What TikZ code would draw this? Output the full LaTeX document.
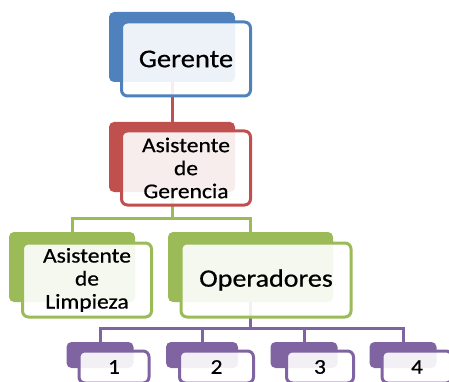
\documentclass[tikz,border=0pt]{standalone}
\usepackage{fontspec}
\setmainfont{Carlito}[FakeStretch=1.12,FakeBold=0.6]
\usetikzlibrary{positioning}
\definecolor{orgblue}{HTML}{4F81BD}
\definecolor{orgred}{HTML}{C0504D}
\definecolor{orggreen}{HTML}{9BBB59}
\definecolor{orgpurple}{HTML}{8064A2}

\begin{document}
\begin{tikzpicture}[x=1pt,y=-1pt,
  backbox/.style={fill=#1, rounded corners=5pt},
  frontbox/.style={draw=#1, line width=3pt, fill=white, fill opacity=0.9,
    text opacity=1, rounded corners=6pt, align=center},
  link/.style={draw=#1, line width=3pt}]
\tikzstyle{every node}+=[inner sep=0pt]
\useasboundingbox (0,0) rectangle (449,382);
\clip (0,0) rectangle (449,382);
% back shapes
\node [backbox=orgblue, minimum width=126pt, minimum height=70pt] (gerB) at (172,47) {};
\node [backbox=orgred, minimum width=126pt, minimum height=70pt] (asgB) at (172,157) {};
\node [backbox=orggreen, minimum width=126pt, minimum height=70pt] (limB) at (72,267) {};
\node [backbox=orggreen, minimum width=165pt, minimum height=70pt] (opB) at (250.5,267) {};
\node [backbox=orgpurple, minimum width=67pt, minimum height=26pt] (op1B) at (100,355) {};
\node [backbox=orgpurple, minimum width=72pt, minimum height=26pt] (op2B) at (202,355) {};
\node [backbox=orgpurple, minimum width=67pt, minimum height=26pt] (op3B) at (304,355) {};
\node [backbox=orgpurple, minimum width=67pt, minimum height=26pt] (op4B) at (403,355) {};
% connectors
\coordinate (gbus) at (172,218);
\coordinate (pbus) at (250.5,328);
\draw [link=orgred] (gerB.south) -- (asgB.north);
\draw [link=orggreen] (asgB.south) -- (gbus) -| (limB.north);
\draw [link=orggreen] (gbus) -| (opB.north);
\draw [link=orgpurple] (opB.south) -- (pbus) -| (op1B.north);
\draw [link=orgpurple] (pbus) -| (op2B.north);
\draw [link=orgpurple] (pbus) -| (op3B.north);
\draw [link=orgpurple] (pbus) -| (op4B.north);
% front shapes
\node [frontbox=orgblue, minimum width=129pt, minimum height=74pt,
  font=\fontsize{25.5}{28}\selectfont] (ger) at (186,59) {Gerente};
\node [frontbox=orgred, minimum width=129pt, minimum height=74pt,
  font=\fontsize{21}{23}\selectfont] (asg) at (186,168) {Asistente\\de\\Gerencia};
\node [frontbox=orggreen, minimum width=129pt, minimum height=74pt,
  font=\fontsize{21}{23}\selectfont] (lim) at (87,280) {Asistente\\de\\Limpieza};
\node [frontbox=orggreen, minimum width=170pt, minimum height=74pt,
  font=\fontsize{25}{28}\selectfont] (op) at (266,280) {Operadores};
\node [frontbox=orgpurple, minimum width=70pt, minimum height=32pt,
  font=\fontsize{21}{24}\selectfont] (op1) at (114,367) {1};
\node [frontbox=orgpurple, minimum width=74pt, minimum height=32pt,
  font=\fontsize{21}{24}\selectfont] (op2) at (216.5,367) {2};
\node [frontbox=orgpurple, minimum width=67pt, minimum height=32pt,
  font=\fontsize{21}{24}\selectfont] (op3) at (320,367) {3};
\node [frontbox=orgpurple, minimum width=70pt, minimum height=32pt,
  font=\fontsize{21}{24}\selectfont] (op4) at (417,367) {4};
\end{tikzpicture}
\end{document}
